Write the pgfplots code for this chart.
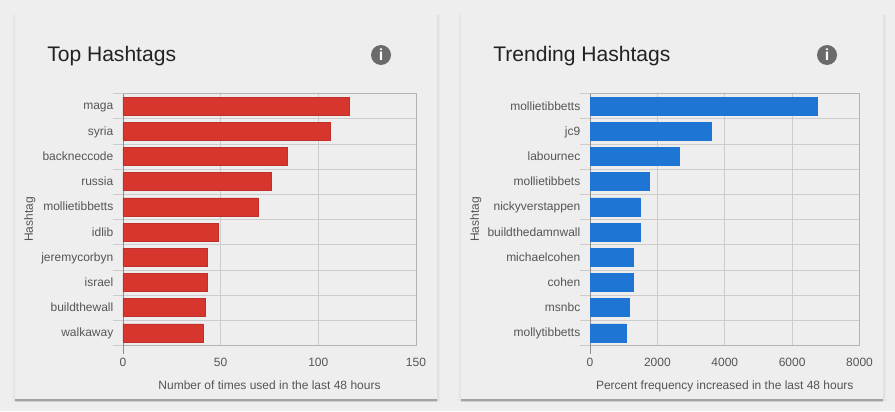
\documentclass[border=0pt]{standalone}
\usepackage{pgfplots}
\pgfplotsset{compat=1.18}
\usepackage{fontspec}
\setmainfont{Liberation Sans}
\definecolor{bg}{HTML}{EEEEEE}
\definecolor{redbar}{HTML}{D6362D}
\definecolor{rededge}{HTML}{BE3029}
\definecolor{bluebar}{HTML}{1E75D3}
\definecolor{gridc}{HTML}{CCCCCC}
\definecolor{boxc}{HTML}{B4B4B4}
\definecolor{axisc}{HTML}{8C8C8C}
\definecolor{labc}{HTML}{555555}
\definecolor{titlec}{HTML}{222222}
\definecolor{iconc}{HTML}{6B6B6B}
\newlength{\px}\setlength{\px}{0.75pt}
\newcommand{\card}[2]{%
  \fill[black,opacity=0.02] ({(#1-3)*\px},{(411-402)*\px}) rectangle ({(#2+3)*\px},{(411-15)*\px});
  \fill[black,opacity=0.03] ({(#1-1.5)*\px},{(411-401)*\px}) rectangle ({(#2+1.5)*\px},{(411-15)*\px});
  \fill[black,opacity=0.10] ({#1*\px},{(411-402)*\px}) rectangle ({#2*\px},{(411-398)*\px});
  \fill[black,opacity=0.20] ({#1*\px},{(411-400.5)*\px}) rectangle ({#2*\px},{(411-398)*\px});
  \fill[bg] ({#1*\px},{(411-399)*\px}) rectangle ({#2*\px},{(411-15)*\px});
}
\newcommand{\info}[1]{%
  \fill[iconc] ({#1*\px},{(411-55)*\px}) circle ({10*\px});
  \node[white,font=\fontsize{12}{12}\selectfont\bfseries,inner sep=0pt] at ({#1*\px},{(411-55)*\px}) {i};
}
\pgfplotsset{hash/.style={
  scale only axis,
  anchor=north west,
  xbar, y dir=reverse,
  ymin=-0.5, ymax=9.5,
  bar width=18*0.75pt,
  bar shift=0pt,
  xmin=0,
  axis line style={draw=boxc,line width=0.6pt},
  xmajorgrids, major grid style={draw=gridc,line width=0.6pt},
  ytick={0,...,9},
  minor ytick={-0.5,0.5,...,9.5},
  yminorgrids, minor grid style={draw=gridc,line width=0.6pt},
  tick align=outside,
  ytick pos=left,
  xtick pos=bottom,
  major tick length=0pt,
  minor tick length=10*0.75pt,
  minor tick style={draw=gridc,line width=0.6pt},
  typeset ticklabels with strut,
  tick label style={font=\fontsize{9}{9}\selectfont,text=labc},
  /pgf/number format/assume math mode=true,
  /pgf/number format/1000 sep={},
  y tick label style={xshift=-3.75pt,yshift=-1.1pt},
  x tick label style={yshift=-6pt},
  extra x ticks={0},
  extra x tick labels={},
  extra x tick style={
    xmajorgrids,
    major grid style={draw=axisc,line width=0.7pt},
    major tick length=8*0.75pt,
    tick style={draw=axisc,line width=0.7pt},
  },
  xlabel style={font=\fontsize{9}{9}\selectfont,text=labc},
  ylabel style={font=\fontsize{9}{9}\selectfont,text=labc},
  clip=false,
}}
\begin{document}
\begin{tikzpicture}[x=1pt,y=1pt]
\fill[bg] (0,0) rectangle ({895*\px},{411*\px});
\card{15}{437}
\card{461}{883}
\info{381}
\info{827}
\node[anchor=base west,inner sep=0pt,text=titlec,font=\fontsize{15.8}{16}\selectfont] at ({47*\px},{(411-62)*\px}) {Top Hashtags};
\node[anchor=base west,inner sep=0pt,text=titlec,font=\fontsize{15.8}{16}\selectfont] at ({493*\px},{(411-62)*\px}) {Trending Hashtags};
\begin{axis}[hash,
  at={(123*0.75pt,{(411-93.5)*0.75pt})},
  width=293*0.75pt, height=252*0.75pt,
  xmax=150, xtick={0,50,100,150},
  yticklabels={maga,syria,backneccode,russia,mollietibbetts,idlib,jeremycorbyn,israel,buildthewall,walkaway},
  xlabel={Number of times used in the last 48 hours},
  ylabel={Hashtag},
  xlabel style={at={(axis description cs:0.5,0)},anchor=base,yshift=-43.5*0.75pt},
  ylabel style={at={(axis description cs:-0.318,0.5)},anchor=center},
]
\addplot[fill=redbar,draw=rededge,line width=0.4pt] coordinates {(116,0)(106,1)(84,2)(76,3)(69,4)(49,5)(43,6)(43,7)(42,8)(41,9)};
\end{axis}
\begin{axis}[hash,
  at={(590*0.75pt,{(411-93.5)*0.75pt})},
  width=269.5*0.75pt, height=252*0.75pt,
  xmax=8000, xtick={0,2000,4000,6000,8000},
  yticklabels={mollietibbetts,jc9,labournec,mollietibbets,nickyverstappen,buildthedamnwall,michaelcohen,cohen,msnbc,mollytibbetts},
  xlabel={Percent frequency increased in the last 48 hours},
  ylabel={Hashtag},
  xlabel style={at={(axis description cs:0.5,0)},anchor=base,yshift=-43.5*0.75pt},
  ylabel style={at={(axis description cs:-0.424,0.5)},anchor=center},
]
\addplot[fill=bluebar,draw=bluebar,line width=0.4pt] coordinates {(6760,0)(3590,1)(2660,2)(1770,3)(1480,4)(1480,5)(1270,6)(1270,7)(1180,8)(1090,9)};
\end{axis}
\end{tikzpicture}
\end{document}
